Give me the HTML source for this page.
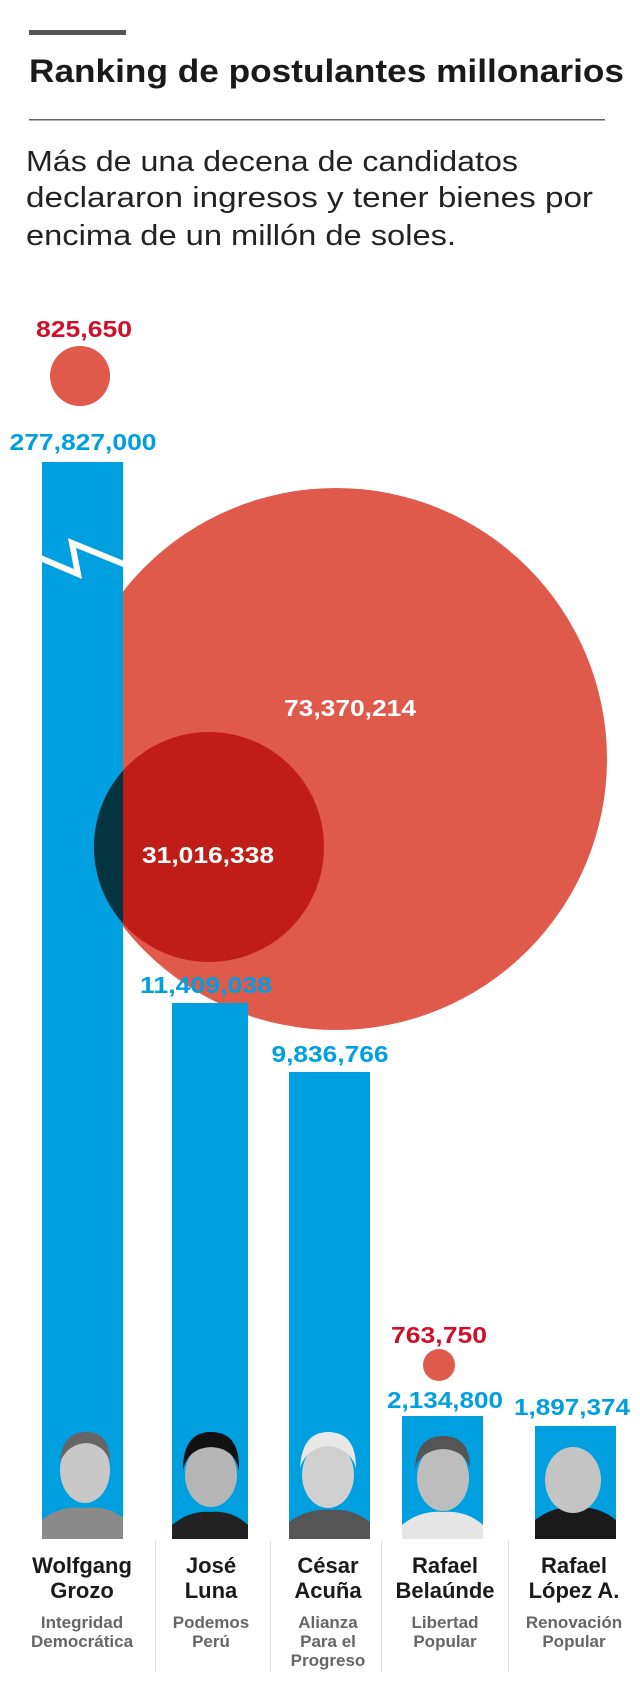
<!DOCTYPE html>
<html><head><meta charset="utf-8"><style>
html,body{margin:0;padding:0;background:#fff;}
svg{display:block;}
text{font-family:"Liberation Sans Narrow","Liberation Sans",sans-serif;font-weight:bold;}
</style></head><body>
<svg width="640" height="1707" viewBox="0 0 640 1707" xmlns="http://www.w3.org/2000/svg">
<rect x="29" y="30" width="97" height="5" fill="#555"/>
<text x="29" y="82" font-size="32" fill="#1a1a1a" textLength="595" lengthAdjust="spacingAndGlyphs">Ranking de postulantes millonarios</text>
<rect x="29" y="119" width="576" height="1.5" fill="#666"/>
<g style="font-weight:normal" fill="#222">
<text x="26" y="171" font-size="29" style="font-weight:normal" textLength="492" lengthAdjust="spacingAndGlyphs">Más de una decena de candidatos</text>
<text x="26" y="207" font-size="29" style="font-weight:normal" textLength="567" lengthAdjust="spacingAndGlyphs">declararon ingresos y tener bienes por</text>
<text x="26" y="245" font-size="29" style="font-weight:normal" textLength="430" lengthAdjust="spacingAndGlyphs">encima de un millón de soles.</text>
</g>
<text x="84" y="337" font-size="23" fill="#d0102a" text-anchor="middle" textLength="96" lengthAdjust="spacingAndGlyphs">825,650</text>
<circle cx="80" cy="376" r="30" fill="#e05a4b"/>
<text x="83" y="450" font-size="23" fill="#009fdf" text-anchor="middle" textLength="147" lengthAdjust="spacingAndGlyphs">277,827,000</text>
<circle cx="336" cy="759" r="271" fill="#e05a4b"/>
<defs><clipPath id="b1"><rect x="42" y="462" width="81" height="1077"/></clipPath></defs>
<rect x="42" y="462" width="81" height="1077" fill="#009fdf"/>
<polyline points="38,557 78,574 72,543 126,565" fill="none" stroke="#fff" stroke-width="6"/>
<circle cx="209" cy="847" r="115" fill="#c01d18"/>
<circle cx="209" cy="847" r="115" fill="#04343f" clip-path="url(#b1)"/>
<text x="350" y="716" font-size="23" fill="#fff" text-anchor="middle" textLength="132" lengthAdjust="spacingAndGlyphs">73,370,214</text>
<text x="208" y="863" font-size="23" fill="#fff" text-anchor="middle" textLength="132" lengthAdjust="spacingAndGlyphs">31,016,338</text>
<rect x="172" y="1003" width="76" height="536" fill="#009fdf"/>
<text x="206" y="993" font-size="23" fill="#009fdf" text-anchor="middle" textLength="132" lengthAdjust="spacingAndGlyphs">11,409,038</text>
<rect x="289" y="1072" width="81" height="467" fill="#009fdf"/>
<text x="330" y="1062" font-size="23" fill="#009fdf" text-anchor="middle" textLength="117" lengthAdjust="spacingAndGlyphs">9,836,766</text>
<text x="439" y="1343" font-size="23" fill="#d0102a" text-anchor="middle" textLength="96" lengthAdjust="spacingAndGlyphs">763,750</text>
<circle cx="439" cy="1365" r="16" fill="#e05a4b"/>
<rect x="402" y="1416" width="81" height="123" fill="#009fdf"/>
<text x="445" y="1408" font-size="23" fill="#009fdf" text-anchor="middle" textLength="116" lengthAdjust="spacingAndGlyphs">2,134,800</text>
<rect x="535" y="1426" width="81" height="113" fill="#009fdf"/>
<text x="572" y="1415" font-size="23" fill="#009fdf" text-anchor="middle" textLength="116" lengthAdjust="spacingAndGlyphs">1,897,374</text>
<!-- portraits -->
<g>
<path d="M42 1539 L42 1520 Q60 1505 84 1508 Q108 1505 123 1518 L123 1539Z" fill="#8a8a8a"/>
<ellipse cx="85" cy="1470" rx="25" ry="33" fill="#c8c8c8"/><path d="M60 1462 Q62 1432 86 1432 Q110 1432 110 1462 Q104 1444 86 1443 Q68 1444 60 1462Z" fill="#666"/>
<path d="M172 1539 L172 1525 Q190 1510 211 1512 Q232 1510 248 1525 L248 1539Z" fill="#222"/>
<ellipse cx="211" cy="1475" rx="26" ry="32" fill="#b5b5b5"/><path d="M183 1470 Q183 1432 211 1432 Q240 1432 239 1470 Q234 1448 211 1447 Q188 1448 183 1470Z" fill="#111"/>
<path d="M289 1539 L289 1522 Q308 1508 330 1510 Q352 1508 370 1522 L370 1539Z" fill="#555"/>
<ellipse cx="328" cy="1475" rx="26" ry="33" fill="#d0d0d0"/><path d="M300 1468 Q302 1432 328 1432 Q356 1432 356 1468 Q350 1448 328 1446 Q306 1448 300 1468Z" fill="#e8e8e8"/>
<path d="M402 1539 L402 1525 Q420 1510 443 1512 Q466 1510 483 1525 L483 1539Z" fill="#e6e6e6"/>
<ellipse cx="443" cy="1478" rx="26" ry="33" fill="#bdbdbd"/><path d="M415 1468 Q417 1436 443 1436 Q470 1436 470 1468 Q464 1450 443 1449 Q422 1450 415 1468Z" fill="#555"/>
<path d="M535 1539 L535 1520 Q555 1505 575 1508 Q597 1505 616 1520 L616 1539Z" fill="#1a1a1a"/>
<ellipse cx="573" cy="1480" rx="28" ry="33" fill="#c4c4c4"/>
</g>
<g fill="#ddd"><rect x="155" y="1541" width="1" height="131"/><rect x="270" y="1541" width="1" height="131"/><rect x="381" y="1541" width="1" height="131"/><rect x="508" y="1541" width="1" height="131"/></g>
<g font-size="22" fill="#1a1a1a" text-anchor="middle">
<text x="82" y="1573">Wolfgang</text><text x="82" y="1598">Grozo</text>
<text x="211" y="1573">José</text><text x="211" y="1598">Luna</text>
<text x="328" y="1573">César</text><text x="328" y="1598">Acuña</text>
<text x="445" y="1573">Rafael</text><text x="445" y="1598">Belaúnde</text>
<text x="574" y="1573">Rafael</text><text x="574" y="1598">López A.</text>
</g>
<g font-size="17" fill="#666" text-anchor="middle">
<text x="82" y="1628">Integridad</text><text x="82" y="1647">Democrática</text>
<text x="211" y="1628">Podemos</text><text x="211" y="1647">Perú</text>
<text x="328" y="1628">Alianza</text><text x="328" y="1647">Para el</text><text x="328" y="1666">Progreso</text>
<text x="445" y="1628">Libertad</text><text x="445" y="1647">Popular</text>
<text x="574" y="1628">Renovación</text><text x="574" y="1647">Popular</text>
</g>
</svg>
</body></html>
